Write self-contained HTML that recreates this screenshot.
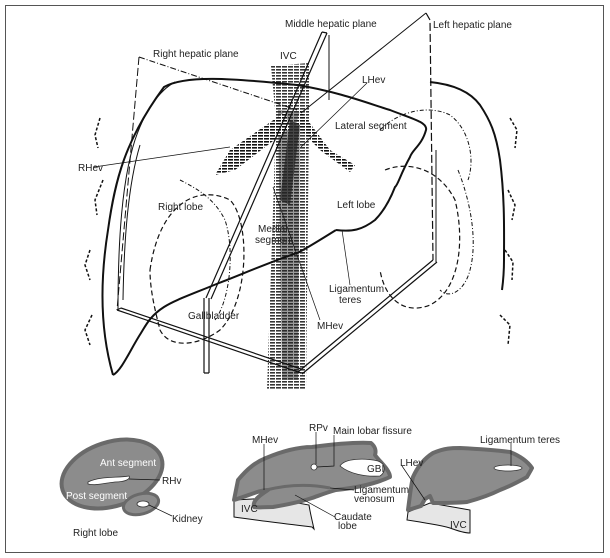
<!DOCTYPE html>
<html><head><meta charset="utf-8"><style>
html,body{margin:0;padding:0;background:#fff;}
svg{display:block;}
text{font-family:"Liberation Sans",sans-serif;font-size:10px;fill:#222;}
</style></head><body>
<svg width="610" height="558" viewBox="0 0 610 558" xmlns="http://www.w3.org/2000/svg">
<defs>
<pattern id="h" width="6" height="3" patternUnits="userSpaceOnUse">
<rect width="6" height="3" fill="#fff"/><rect y="0" width="5" height="1.6" fill="#111"/>
</pattern>
</defs>
<rect x="5.5" y="5.5" width="598" height="547" fill="#fff" stroke="#555" stroke-width="1"/>

<path d="M271,66 L309,63 L309,120 L306,390 L267,390 L276,120 Z" fill="url(#h)" opacity="0.85"/>
<path d="M278,110 L300,112 L298,380 L282,380 Z" fill="#222" opacity="0.45"/>
<path d="M285,112 L230,150 L215,175 L235,170 L290,128 Z" fill="url(#h)"/>
<path d="M300,110 L330,150 L355,165 L350,172 L320,150 L296,125 Z" fill="url(#h)"/>
<path d="M290,120 L280,200 L290,205 L300,125 Z" fill="#222" opacity="0.7"/>

<g fill="none" stroke="#111">
<path d="M113,375 C100,330 100,280 108,230 C115,180 125,140 164,87 C185,75 230,78 297,85 C340,92 370,104 390,110 C410,118 428,122 426,130 C422,145 412,150 410,157 C400,175 398,185 395,187 C388,205 380,215 375,220 C362,230 352,232 336,230" stroke-width="2"/>
<path d="M336,230 C320,240 300,252 297,253 C270,262 240,275 219,283 C190,295 175,300 164,307 C150,316 146,325 141,333 C130,350 122,370 113,375" stroke-width="2"/>
<path d="M118,310 C118,240 122,180 135,140 C145,110 160,90 175,82" stroke-width="1"/>
<path d="M123,300 C124,240 128,185 140,145" stroke-width="1"/>
<path d="M430,82 C450,84 469,90 480,105 C490,120 496,133 500,160 C505,200 504,233 504,260 C504,275 502,290 502,290" stroke-width="2"/>
<path d="M322,32 L206,298 M327,33 L211,299" stroke-width="1.2"/>
<path d="M322,32 L327,33" stroke-width="1.2"/>
<path d="M329,35 L329,100" stroke-width="1"/>
<path d="M204,298 L204,373 M209,298 L209,373 M204,373 L209,373" stroke-width="1.2"/>
<path d="M426,13 L301,113" stroke-width="1"/>
<path d="M426,13 L430,20 L433,260" stroke-width="1.2" stroke-dasharray="8,3"/>
<path d="M436,150 L436,262" stroke-width="1"/>
<path d="M433,260 L298,372 M437,262 L302,374" stroke-width="1.2"/>
<path d="M139,57 L297,110" stroke-width="1" stroke-dasharray="6,2,1,2"/>
<path d="M139,57 L117,310" stroke-width="1" stroke-dasharray="8,3"/>
<path d="M117,310 L301,373 M121,308 L301,369" stroke-width="1.2"/>
<path d="M117,310 L121,308" stroke-width="1"/>
<path d="M150,270 C160,200 200,185 230,200 C250,220 250,300 220,330 C200,345 170,350 160,330 C155,310 150,290 150,270" stroke-width="1.2" stroke-dasharray="5,3"/>
<path d="M385,170 C410,160 440,170 455,200 C465,240 460,290 430,305 C405,315 385,300 380,270" stroke-width="1.2" stroke-dasharray="5,3"/>
<path d="M380,130 C400,110 430,105 450,115 C470,130 475,160 468,180" stroke-width="1" stroke-dasharray="4,2,1,2"/>
<path d="M458,170 C470,200 478,240 470,270 C465,290 450,300 440,290" stroke-width="1" stroke-dasharray="4,2,1,2"/>
<path d="M180,180 C200,190 215,200 225,220 C235,250 230,300 215,320" stroke-width="1" stroke-dasharray="4,2,1,2"/>
<path d="M100,118 L95,135 L98,148 M103,180 L95,200 L97,215 M90,250 L85,265 L90,280 M92,315 L85,330 L90,345" stroke-width="1.5" stroke-dasharray="3,2"/>
<path d="M510,118 L517,130 L515,148 M508,190 L515,205 L512,220 M505,250 L513,262 L512,280 M500,315 L510,325 L508,345" stroke-width="1.5" stroke-dasharray="3,2"/>
<path d="M94,167 L230,147" stroke-width="0.7"/>
<path d="M367,83 L301,147" stroke-width="0.7"/>
<path d="M342,230 L350,285" stroke-width="0.7"/>
<path d="M320,320 L273,187" stroke-width="0.7"/>
</g>

<text x="285" y="27">Middle hepatic plane</text>
<text x="433" y="28">Left hepatic plane</text>
<text x="153" y="57">Right hepatic plane</text>
<text x="280" y="59">IVC</text>
<text x="362" y="83">LHev</text>
<text x="335" y="129">Lateral segment</text>
<text x="78" y="171">RHev</text>
<text x="158" y="210">Right lobe</text>
<text x="337" y="208">Left lobe</text>
<text x="258" y="232">Medial</text>
<text x="255" y="243">segment</text>
<text x="329" y="292">Ligamentum</text>
<text x="339" y="303">teres</text>
<text x="188" y="319">Gallbladder</text>
<text x="317" y="329">MHev</text>

<g>
<ellipse cx="112" cy="474" rx="52" ry="32" transform="rotate(-18 112 474)" fill="#8c8c8c" stroke="#6a6a6a" stroke-width="4"/>
<path d="M88,482 C100,476 118,478 129,476 C131,479 125,482 115,482 C105,483 95,486 88,484 Z" fill="#fff" stroke="#333" stroke-width="0.8"/>
<ellipse cx="141" cy="504" rx="18" ry="10" transform="rotate(-15 141 504)" fill="#8c8c8c" stroke="#6a6a6a" stroke-width="3"/>
<ellipse cx="143" cy="504" rx="6" ry="3" fill="#fff" stroke="#333" stroke-width="0.8"/>
<path d="M129,479 L160,480 M149,505 L172,516" stroke="#111" stroke-width="0.7" fill="none"/>
<text x="100" y="466" style="fill:#fff">Ant segment</text>
<text x="66" y="499" style="fill:#fff">Post segment</text>
<text x="162" y="484">RHv</text>
<text x="172" y="522">Kidney</text>
<text x="73" y="536">Right lobe</text>
</g>

<g>
<path d="M234,500 L234,517 C255,520 280,523 312,527 L314,529 C312,520 310,512 309,505 L270,498 Z" fill="#e6e6e6" stroke="#111" stroke-width="1"/>
<path d="M234,500 L238,480 C248,468 256,462 266,458 C285,450 300,447 312,447 C335,444 355,442 371,443 C376,447 376,452 375,455 C380,462 390,470 390,477 C375,484 355,488 336,490 C325,493 318,496 312,498 C300,502 285,505 273,507 C262,507 258,508 254,507 C252,500 262,494 268,490 C260,490 250,495 234,500 Z" fill="#8c8c8c" stroke="#6a6a6a" stroke-width="4" stroke-linejoin="round"/>
<path d="M266,490 C290,484 310,484 330,488" stroke="#6a6a6a" stroke-width="3" fill="none"/>
<path d="M340,466 C345,458 365,458 378,461 C386,464 386,472 380,476 C365,477 350,474 340,466 Z" fill="#fff" stroke="#333" stroke-width="0.8"/>
<circle cx="314" cy="467" r="3" fill="#fff" stroke="#333" stroke-width="0.8"/>
<path d="M316,432 L316,464 M334,435 L334,466 L317,467 M264,444 L264,490 M330,488 L354,490 M295,495 L335,517" stroke="#111" stroke-width="0.7" fill="none"/>
<text x="309" y="431">RPv</text>
<text x="333" y="434">Main lobar fissure</text>
<text x="252" y="443">MHev</text>
<text x="367" y="472">GBI</text>
<text x="354" y="493">Ligamentum</text>
<text x="354" y="502">venosum</text>
<text x="241" y="512">IVC</text>
<text x="334" y="520">Caudate</text>
<text x="338" y="529">lobe</text>
</g>

<g>
<path d="M408,512 L407,520 L420,522 C430,524 440,525 450,528 C458,531 465,533 470,533 L470,510 L430,503 Z" fill="#e6e6e6" stroke="#111" stroke-width="1"/>
<path d="M408,510 C410,495 411,485 413,477 C418,466 425,458 433,453 C445,448 452,448 460,448 C480,449 495,450 510,452 C520,456 528,462 532,468 C530,472 528,475 527,477 C518,482 508,487 500,490 C490,495 478,499 467,502 C455,503 443,503 433,503 L430,496 L425,499 L421,506 Z" fill="#8c8c8c" stroke="#6a6a6a" stroke-width="4" stroke-linejoin="round"/>
<ellipse cx="508" cy="468" rx="14" ry="3" fill="#fff" stroke="#333" stroke-width="0.8"/>
<path d="M511,443 L511,466 M402,466 L425,500" stroke="#111" stroke-width="0.7" fill="none"/>
<text x="480" y="443">Ligamentum teres</text>
<text x="400" y="466">LHev</text>
<text x="450" y="528">IVC</text>
</g>
</svg>
</body></html>
